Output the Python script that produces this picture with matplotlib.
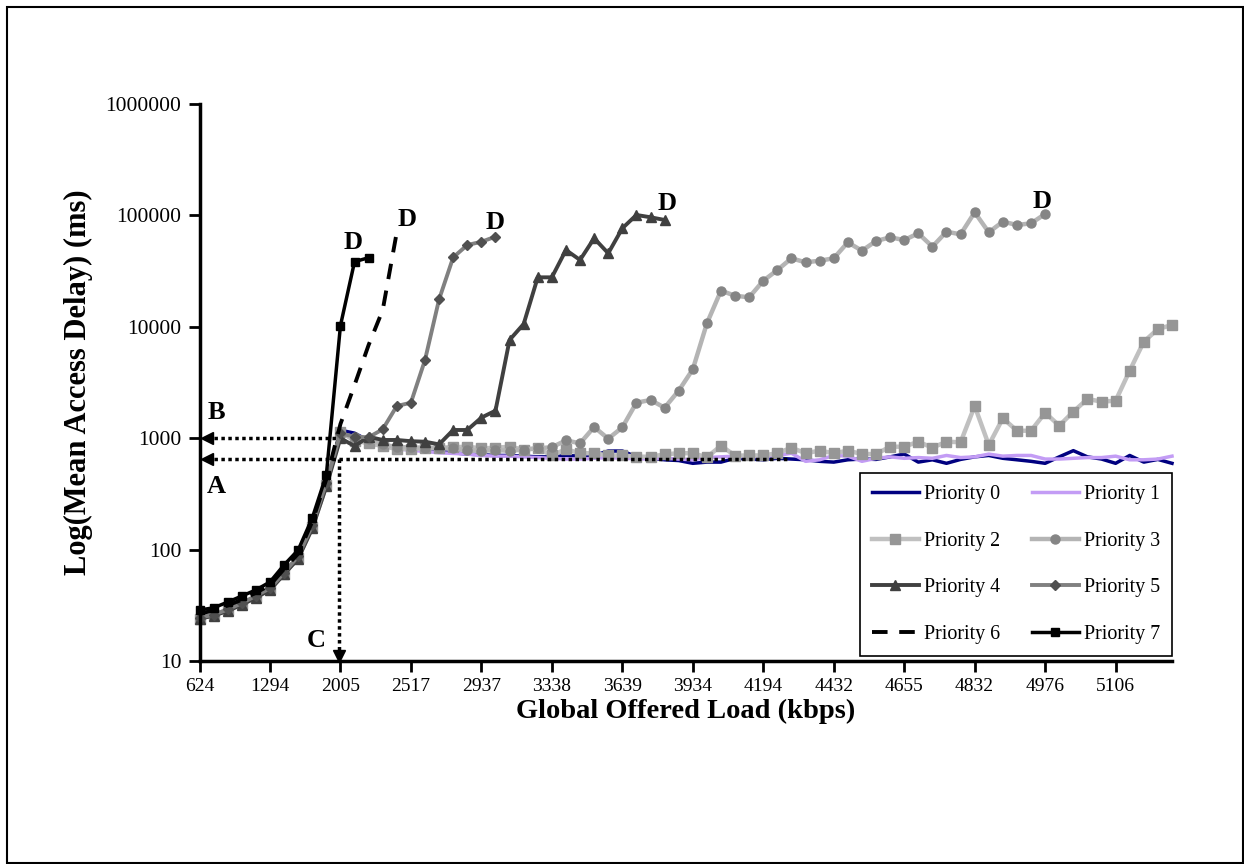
import matplotlib
matplotlib.use("Agg")
from matplotlib import pyplot as plt
from matplotlib.patches import Rectangle

# x axis is a category axis: 70 load points, labelled every 5th
tickLabels = ["624", "1294", "2005", "2517", "2937", "3338", "3639",
              "3934", "4194", "4432", "4655", "4832", "4976", "5106"]
nPoints = 70

# Mean access delay (ms) per priority, one value per load point
priority0 = [24.2, 25.9, 28.7, 32.5, 37.8, 44.2, 61.2, 85, 160, 380,
             1180, 1110, 950, 880, 830, 800, 780, 760, 740, 720,
             710, 700, 700, 690, 680, 680, 700, 690, 700, 767,
             767, 682, 660, 640, 630, 595, 610, 610, 660, 650,
             640, 660, 650, 640, 620, 610, 640, 650, 645, 680,
             721, 610, 640, 595, 645, 680, 700, 660, 640, 620,
             595, 680, 773, 680, 650, 595, 700, 610, 645, 595]
priority1 = [24.5, 26.2, 29, 32.8, 38, 44.5, 61.5, 86, 162, 385,
             1100, 1000, 900, 850, 800, 780, 760, 740, 730, 720,
             700, 690, 690, 680, 670, 660, 650, 650, 660, 670,
             660, 655, 650, 660, 650, 640, 670, 680, 690, 680,
             690, 700, 733, 620, 640, 700, 690, 620, 660, 680,
             660, 670, 660, 700, 670, 680, 720, 690, 700, 700,
             650, 650, 660, 670, 670, 690, 640, 640, 650, 690]
priority2 = [24, 25.7, 28.5, 32.3, 37.5, 44, 61, 84, 158, 378,
             1140, 950, 900, 850, 800, 800, 810, 822, 830, 839,
             811, 820, 839, 790, 811, 700, 796, 733, 733, 700,
             700, 682, 682, 716, 733, 733, 674, 857, 697, 700,
             700, 733, 822, 733, 773, 733, 773, 721, 721, 839,
             839, 930, 822, 930, 920, 1945, 869, 1510, 1167, 1167,
             1694, 1295, 1730, 2250, 2130, 2170, 4040, 7350, 9550, 10380]
priority3 = [24.3, 26, 28.8, 32.6, 38, 44.5, 61.5, 86, 162, 390,
             1070, 1030, 980, 880, 830, 830, 820, 815, 811, 780,
             770, 783, 770, 790, 811, 830, 955, 900, 1260, 990,
             1250, 2083, 2203, 1879, 2670, 4150, 10740, 21100, 19000, 18400,
             25900, 32300, 41200, 37900, 39200, 41200, 57300, 48200, 58900, 63500,
             60100, 69000, 52400, 71400, 67600, 106600, 70500, 87900, 82000, 84900,
             103000]
priority4 = [24, 25.5, 28.2, 32, 37, 43.5, 60, 83, 155, 370,
             1000, 850, 1030, 964, 964, 940, 930, 880, 1185, 1185,
             1530, 1766, 7620, 10600, 27800, 27800, 48900, 39800, 62300, 45700,
             76600, 100900, 96200, 91000]
priority5 = [24.5, 26, 29, 33, 38.5, 45, 62, 87, 165, 400,
             1107, 1031, 1019, 1202, 1945, 2083, 5035, 17650, 42000, 54200,
             58000, 64400]
priority6 = [26.5, 28.5, 31.5, 35.5, 41, 48, 67, 92, 178, 430,
             1340, 3000, 6870, 14150, 71000]
priority7 = [28.7, 30, 33.8, 38.3, 43.4, 51.2, 72.8, 99, 192, 468,
             10240, 38400, 41700]

serif = "Liberation Serif"
plt.rcParams["font.family"] = serif

fig = plt.figure(figsize=(12.44, 8.64), dpi=100)
fig.patches.append(Rectangle((7 / 1244, 0.001), 1 - 8 / 1244, 1 - 8 / 864, transform=fig.transFigure,
                             fill=False, edgecolor="black", linewidth=1.5))
ax = fig.add_axes([199.5 / 1244, 1 - 661 / 864, 972.5 / 1244, 557 / 864])


def draw(values, label, **style):
    ax.plot(range(len(values)), values, label=label, clip_on=False, **style)


draw(priority0, "Priority 0", color="#000080", lw=2.5)
draw(priority1, "Priority 1", color="#c39cf5", lw=2.5)
draw(priority2, "Priority 2", color="#c0c0c0", lw=3.2, marker="s", ms=7,
     mfc="#969696", mec="#969696")
draw(priority3, "Priority 3", color="#b4b4b4", lw=3.2, marker="o", ms=6.5,
     mfc="#858585", mec="#858585")
draw(priority4, "Priority 4", color="#404040", lw=2.8, marker="^", ms=7)
draw(priority5, "Priority 5", color="#808080", lw=2.8, marker="D", ms=5,
     mfc="#505050", mec="#505050")
draw(priority6, "Priority 6", color="black", lw=2.8, ls=(0, (4, 3)))
draw(priority7, "Priority 7", color="black", lw=2.5, marker="s", ms=5.5)

ax.set_yscale("log")
ax.set_ylim(10, 1000000)
ax.set_xlim(0, nPoints - 1)
ax.set_yticks([10, 100, 1000, 10000, 100000, 1000000])
ax.set_yticklabels(["10", "100", "1000", "10000", "100000", "1000000"])
ax.minorticks_off()
ax.set_xticks(range(0, nPoints, 5))
ax.set_xticklabels(tickLabels)
ax.tick_params(axis="both", direction="out", length=8, width=2)
ax.tick_params(axis="y", labelsize=15.5, pad=5)
ax.tick_params(axis="x", labelsize=14, pad=4)
for side in ["top", "right"]:
    ax.spines[side].set_visible(False)
for side in ["left", "bottom"]:
    ax.spines[side].set_linewidth(2.5)

ax.set_xlabel("Global Offered Load (kbps)", fontsize=20.5, fontweight="bold", labelpad=3)
ax.set_ylabel("Log(Mean Access Delay) (ms)", fontsize=22, fontweight="bold", labelpad=9)

# A / B / C reading lines
dots = dict(color="black", lw=2.5, ls=(0, (1, 1)))
ax.plot([0.5, 9.9], [1000, 1000], **dots)
ax.plot([0.5, 41.9], [650, 650], **dots)
ax.plot([9.9, 9.9], [650, 11], **dots)
ax.plot([0.55], [1000], marker="<", color="black", ms=9, clip_on=False)
ax.plot([0.55], [650], marker="<", color="black", ms=9, clip_on=False)
ax.plot([9.9], [11.2], marker="v", color="black", ms=9, clip_on=False)

letter = dict(fontsize=19, fontweight="bold", ha="center", va="center")
ax.text(1.2, 1718, "B", **letter)
ax.text(1.2, 365, "A", **letter)
ax.text(8.3, 15.4, "C", **letter)
for x, y in [(10.9, 56900), (14.7, 92000), (21.0, 87000), (33.2, 128000), (59.8, 133000)]:
    ax.text(x, y, "D", **letter)

# legend filled row by row: 0 1 / 2 3 / 4 5 / 6 7
handles, labels = ax.get_legend_handles_labels()
order = [0, 2, 4, 6, 1, 3, 5, 7]
leg = ax.legend([handles[i] for i in order], [labels[i] for i in order], ncol=2,
                loc="lower right", bbox_to_anchor=(1.0, 0.009), fontsize=14.4,
                frameon=True, fancybox=False, edgecolor="black", framealpha=1,
                handlelength=2.35, handletextpad=0.25, columnspacing=1.6,
                labelspacing=1.38, borderpad=0.6, borderaxespad=0)
leg.get_frame().set_linewidth(1.2)

plt.savefig("out.png", dpi=100)
